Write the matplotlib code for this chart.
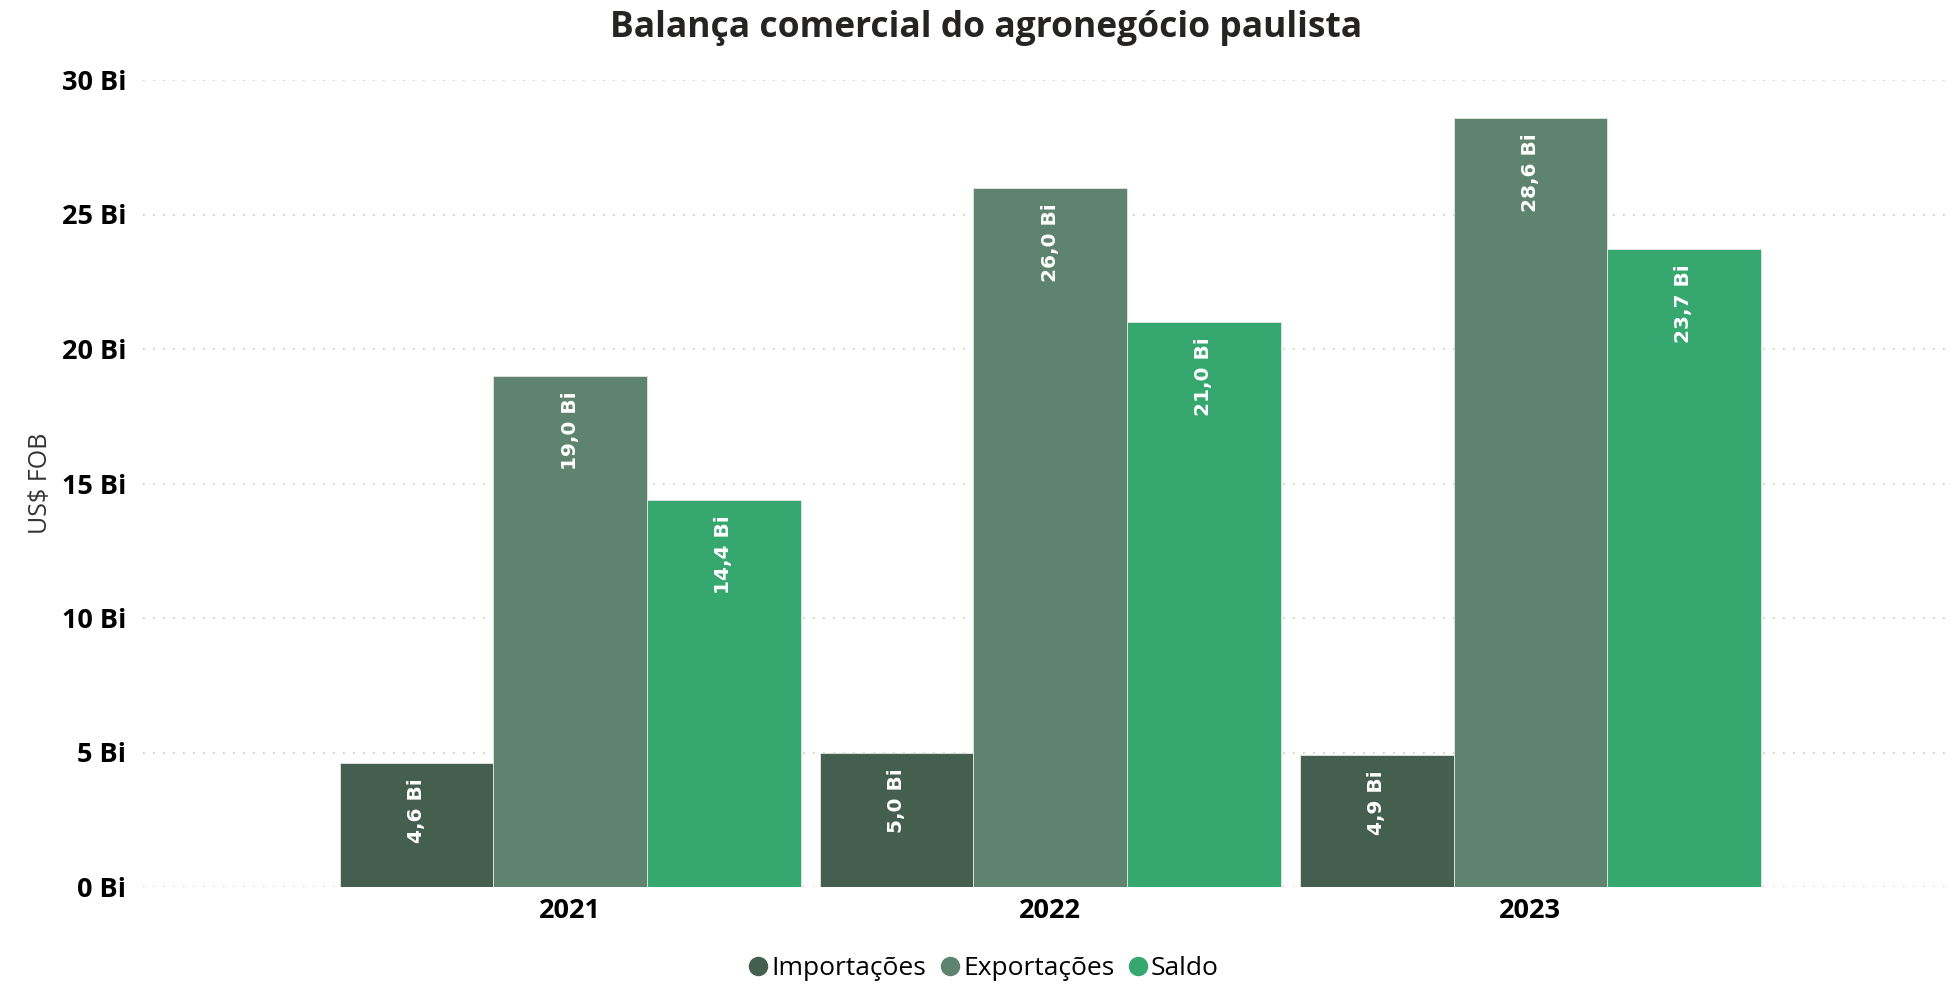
import numpy as np
import matplotlib
matplotlib.use("Agg")
import matplotlib.pyplot as plt
from matplotlib.lines import Line2D

# data
years = ["2021", "2022", "2023"]
series = ["Importações", "Exportações", "Saldo"]
importacoes = [4.6, 5.0, 4.9]
exportacoes = [19.0, 26.0, 28.6]
saldo = [14.4, 21.0, 23.7]
yticks = [0, 5, 10, 15, 20, 25, 30]

colors = ["#445E50", "#5E846F", "#37A770"]

plt.rcParams["font.family"] = ["Open Sans", "DejaVu Sans"]

fig = plt.figure(figsize=(19.56, 9.86), dpi=100)
ax = fig.add_axes([143 / 1956, 1 - 887 / 986, (1948 - 143) / 1956, (887 - 80) / 986])

x = np.arange(len(years))
w = 0.32
values = [importacoes, exportacoes, saldo]
for i, (vals, c) in enumerate(zip(values, colors)):
    pos = x + (i - 1) * w
    ax.bar(pos, vals, width=w, color=c, edgecolor="#e6e6e6", linewidth=0.6, zorder=2)
    for p, v in zip(pos, vals):
        ax.annotate(f"{v:.1f} Bi".replace(".", ","), (p, v), xytext=(0, -11),
                    textcoords="offset points", rotation=90, ha="center", va="top",
                    color="white", fontsize=14.5, fontweight="bold",
                    family="DejaVu Sans", zorder=3)

ax.set_xlim(-0.89, 2.87)
ax.set_ylim(0, 30)
ax.set_yticks(yticks)
ax.set_yticklabels([f"{t} Bi" for t in yticks], fontsize=19.5, fontweight="bold")
ax.set_xticks(x)
ax.set_xticklabels(years, fontsize=19.5, fontweight="bold")
ax.tick_params(length=0, pad=12)
ax.tick_params(axis="x", pad=8)
ax.yaxis.grid(True, linestyle=(0, (1, 5)), color="#c8c8c8", linewidth=1.2, zorder=0)
ax.set_axisbelow(True)
for s in ax.spines.values():
    s.set_visible(False)

ax.set_ylabel("US$ FOB", fontsize=18, color="#333333")
ax.yaxis.set_label_coords(-0.05, 0.5)

fig.text(0.504, 0.972, "Balança comercial do agronegócio paulista", ha="center", va="center",
         fontsize=25.5, fontweight="bold", color="#252423")

handles = [Line2D([], [], marker="o", linestyle="none", markersize=13,
                  markerfacecolor=c, markeredgecolor=c) for c in colors]
fig.legend(handles, series, loc="center", bbox_to_anchor=(0.502, 0.018), ncol=3,
           frameon=False, fontsize=19, handletextpad=0.0, columnspacing=0.4,
           handlelength=1.0)

fig.savefig("out.png", dpi=100)
